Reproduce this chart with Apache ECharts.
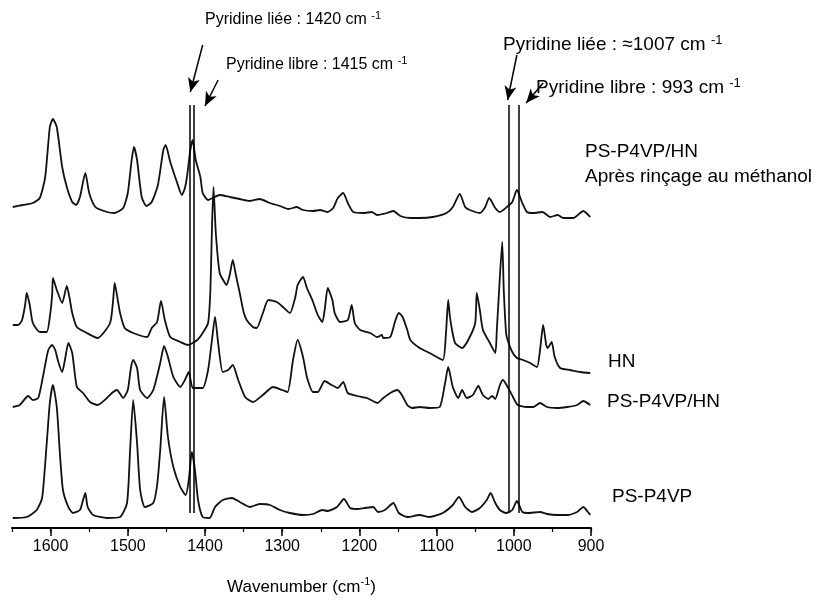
<!DOCTYPE html>
<html>
<head>
<meta charset="utf-8">
<script src="https://cdn.jsdelivr.net/npm/echarts@6/dist/echarts.min.js"></script>
<style>
  html, body { margin: 0; padding: 0; background: #fff; }
  #chart { width: 830px; height: 601px; }
</style>
</head>
<body>
<div id="chart"></div>
<script>
// spectres IR, [nombre d'onde (cm-1), absorbance décalée (u.a.)]
const rinsed = [[1649,321],[1636,323],[1623,325],[1614,330],[1607,351],[1601,401],[1597,409],[1592,401],[1585,361],[1579,341],[1572,326],[1567,323],[1562,331],[1555,355],[1550,335],[1542,321],[1527,316],[1517,315],[1506,320],[1500,335],[1495,368],[1492,381],[1488,368],[1482,331],[1476,322],[1469,326],[1461,343],[1454,378],[1451,383],[1445,366],[1436,345],[1430,333],[1426,340],[1423,353],[1419,378],[1416,388],[1412,368],[1406,351],[1403,335],[1396,328],[1390,330],[1381,333],[1368,331],[1355,329],[1342,327],[1329,329],[1316,325],[1303,322],[1292,319],[1281,321],[1273,318],[1260,317],[1251,318],[1241,316],[1234,320],[1228,330],[1221,335],[1215,325],[1208,316],[1195,315],[1184,316],[1177,313],[1164,315],[1156,317],[1147,312],[1134,310],[1122,310],[1105,311],[1087,315],[1079,321],[1070,334],[1063,321],[1057,318],[1044,315],[1037,321],[1032,330],[1024,320],[1018,316],[1009,321],[1002,326],[996,338],[989,325],[983,316],[975,315],[963,316],[953,311],[943,313],[936,310],[923,310],[910,317],[901,311]]

const hn = [[1649,203],[1642,203],[1637,208],[1633,223],[1631,235],[1627,223],[1623,205],[1614,196],[1605,196],[1601,211],[1598,233],[1597,250],[1592,238],[1585,225],[1579,242],[1575,228],[1572,215],[1566,201],[1553,195],[1539,190],[1523,205],[1519,228],[1517,245],[1513,228],[1510,215],[1504,200],[1493,195],[1475,191],[1469,200],[1462,206],[1457,227],[1452,208],[1445,191],[1432,186],[1422,183],[1410,188],[1403,195],[1396,205],[1393,238],[1391,300],[1389,341],[1386,295],[1381,255],[1375,246],[1372,243],[1368,253],[1364,268],[1360,253],[1355,235],[1350,216],[1346,208],[1338,201],[1333,200],[1325,215],[1318,228],[1307,226],[1299,221],[1290,215],[1283,231],[1280,243],[1273,251],[1268,240],[1261,228],[1254,213],[1248,206],[1245,218],[1241,240],[1235,228],[1232,215],[1225,206],[1215,208],[1210,223],[1206,205],[1199,198],[1186,195],[1177,191],[1171,193],[1169,190],[1160,191],[1154,206],[1149,215],[1144,211],[1138,198],[1134,188],[1122,180],[1109,175],[1092,168],[1088,193],[1085,228],[1083,213],[1080,198],[1076,185],[1067,180],[1059,188],[1050,205],[1048,235],[1044,218],[1040,198],[1031,185],[1024,175],[1022,198],[1019,238],[1015,286],[1013,238],[1010,195],[1008,188],[1002,176],[996,170],[988,168],[979,165],[970,161],[966,178],[962,203],[958,183],[956,180],[951,186],[947,171],[940,160],[927,158],[914,156],[901,155]]

const blendHn = [[1649,121],[1640,123],[1629,132],[1623,128],[1616,130],[1610,151],[1603,178],[1598,183],[1594,178],[1590,166],[1585,156],[1581,170],[1577,185],[1572,175],[1566,141],[1558,135],[1549,126],[1539,123],[1527,130],[1519,136],[1514,138],[1506,130],[1500,138],[1496,160],[1493,168],[1488,160],[1484,138],[1475,130],[1467,138],[1458,165],[1453,182],[1448,171],[1441,151],[1432,141],[1426,148],[1421,156],[1416,140],[1410,140],[1403,140],[1396,158],[1391,188],[1387,211],[1383,185],[1377,156],[1370,158],[1364,163],[1357,148],[1348,131],[1338,126],[1325,133],[1312,141],[1300,138],[1293,136],[1286,168],[1280,188],[1273,171],[1268,151],[1260,136],[1254,136],[1245,147],[1236,143],[1228,140],[1221,146],[1215,135],[1203,132],[1190,130],[1177,125],[1169,130],[1160,135],[1151,138],[1145,133],[1138,123],[1132,120],[1122,121],[1109,120],[1096,121],[1089,145],[1085,161],[1079,141],[1072,130],[1067,138],[1061,130],[1053,133],[1046,142],[1040,133],[1033,129],[1028,132],[1024,129],[1018,143],[1014,148],[1008,141],[1001,131],[995,123],[983,121],[975,121],[966,125],[957,121],[944,120],[931,121],[918,123],[910,127],[901,123]]

const blend = [[1649,10],[1631,11],[1618,18],[1611,30],[1605,85],[1601,125],[1597,143],[1592,121],[1588,75],[1584,38],[1577,21],[1571,15],[1562,18],[1558,28],[1555,35],[1552,21],[1545,13],[1527,10],[1510,11],[1501,25],[1497,78],[1493,128],[1488,85],[1484,38],[1478,21],[1467,25],[1462,43],[1458,78],[1453,131],[1448,91],[1441,61],[1432,41],[1425,33],[1421,48],[1417,76],[1413,58],[1409,28],[1403,11],[1394,10],[1387,21],[1377,28],[1365,30],[1355,26],[1342,21],[1329,24],[1316,23],[1303,18],[1290,15],[1273,13],[1260,14],[1248,18],[1241,17],[1229,21],[1220,29],[1212,20],[1203,19],[1193,20],[1182,21],[1176,16],[1167,18],[1156,25],[1149,15],[1138,11],[1122,13],[1109,11],[1092,15],[1079,23],[1071,31],[1063,21],[1054,16],[1044,20],[1035,28],[1030,35],[1024,25],[1018,18],[1010,15],[1002,18],[996,27],[992,21],[989,16],[982,15],[966,16],[957,14],[944,13],[931,13],[918,16],[910,21],[904,16],[901,13]]

const pyridineLines = [1420, 1415, 1007, 993]
const lineTop = 423
const lineBottom = 15
// flèches : [départ, pointe]
const arrows = [
  [[1403, 483], [1419, 436]],
  [[1383, 448], [1400, 422]],
  [[996, 473], [1008, 428]],
  [[962, 445], [984, 425]]
]

const chart = echarts.init(document.getElementById('chart'))

const font = '"Liberation Sans", Arial, sans-serif'

function label (txt, x, y, size) {
  return {
    type: 'text',
    x: x,
    y: y,
    style: {
      text: txt,
      fill: '#000',
      font: size + 'px ' + font,
      verticalAlign: 'middle'
    }
  }
}

function supLabel (txt, x, y, size) {
  return {
    type: 'text',
    x: x,
    y: y,
    style: {
      text: '{a|' + txt + ' }{b|-1}',
      verticalAlign: 'middle',
      rich: {
        a: { fontSize: size, fontFamily: font, color: '#000', lineHeight: size + 4 },
        b: { fontSize: Math.round(size * 0.68), fontFamily: font, color: '#000', verticalAlign: 'top' }
      }
    }
  }
}

const markLines = []
pyridineLines.forEach(w => {
  markLines.push([{ coord: [w, lineTop], symbol: 'none' }, { coord: [w, lineBottom], symbol: 'none' }])
})
arrows.forEach(a => {
  markLines.push([{ coord: a[0], symbol: 'none' }, { coord: a[1], symbol: 'arrow', symbolSize: [9, 14] }])
})

function trace (name, data, extra) {
  return Object.assign({
    name: name,
    type: 'line',
    data: data,
    showSymbol: false,
    smooth: 0.2,
    clip: false,
    silent: true,
    lineStyle: { color: '#111', width: 1.8 }
  }, extra || {})
}

const option = {
  animation: false,
  backgroundColor: '#fff',
  grid: { left: 12, right: 239, top: 0, bottom: 73 },
  xAxis: [
    {
      type: 'value',
      min: 900,
      max: 1650,
      interval: 100,
      inverse: true,
      name: '{t|Wavenumber (cm}{s|-1}{t|)}',
      nameLocation: 'middle',
      nameGap: 48,
      nameTextStyle: {
        rich: {
          t: { fontSize: 17, fontFamily: font, color: '#000', lineHeight: 22 },
          s: { fontSize: 11, fontFamily: font, color: '#000', verticalAlign: 'top' }
        }
      },
      splitLine: { show: false },
      axisLine: { lineStyle: { color: '#000', width: 2 } },
      axisTick: { inside: false, length: 8, lineStyle: { color: '#000', width: 1.5 } },
      axisLabel: {
        showMaxLabel: false,
        color: '#000',
        fontSize: 16,
        fontFamily: font,
        margin: 11,
        formatter: v => String(v)
      }
    },
    {
      type: 'value',
      min: 900,
      max: 1650,
      interval: 50,
      inverse: true,
      position: 'bottom',
      splitLine: { show: false },
      axisLine: { show: false },
      axisTick: { inside: false, length: 4, lineStyle: { color: '#000', width: 1.2 } },
      axisLabel: { show: false }
    }
  ],
  yAxis: { type: 'value', min: 0, max: 528, show: false },
  series: [
    trace('PS-P4VP/HN après rinçage', rinsed, {
      markLine: {
        silent: true,
        symbol: 'none',
        label: { show: false },
        lineStyle: { color: '#000', width: 1.5, type: 'solid' },
        data: markLines
      }
    }),
    trace('HN', hn),
    trace('PS-P4VP/HN', blendHn),
    trace('PS-P4VP', blend)
  ],
  graphic: [
    supLabel('Pyridine liée : 1420 cm', 205, 20, 16),
    supLabel('Pyridine libre : 1415 cm', 226, 65, 16),
    supLabel('Pyridine liée : ≈1007 cm', 503, 45, 19),
    supLabel('Pyridine libre : 993 cm', 536, 88, 19),
    label('PS-P4VP/HN', 585, 152, 19),
    label('Après rinçage au méthanol', 585, 177, 19),
    label('HN', 608, 362, 19),
    label('PS-P4VP/HN', 607, 402, 19),
    label('PS-P4VP', 612, 497, 19)
  ]
}

chart.setOption(option)
</script>
</body>
</html>
